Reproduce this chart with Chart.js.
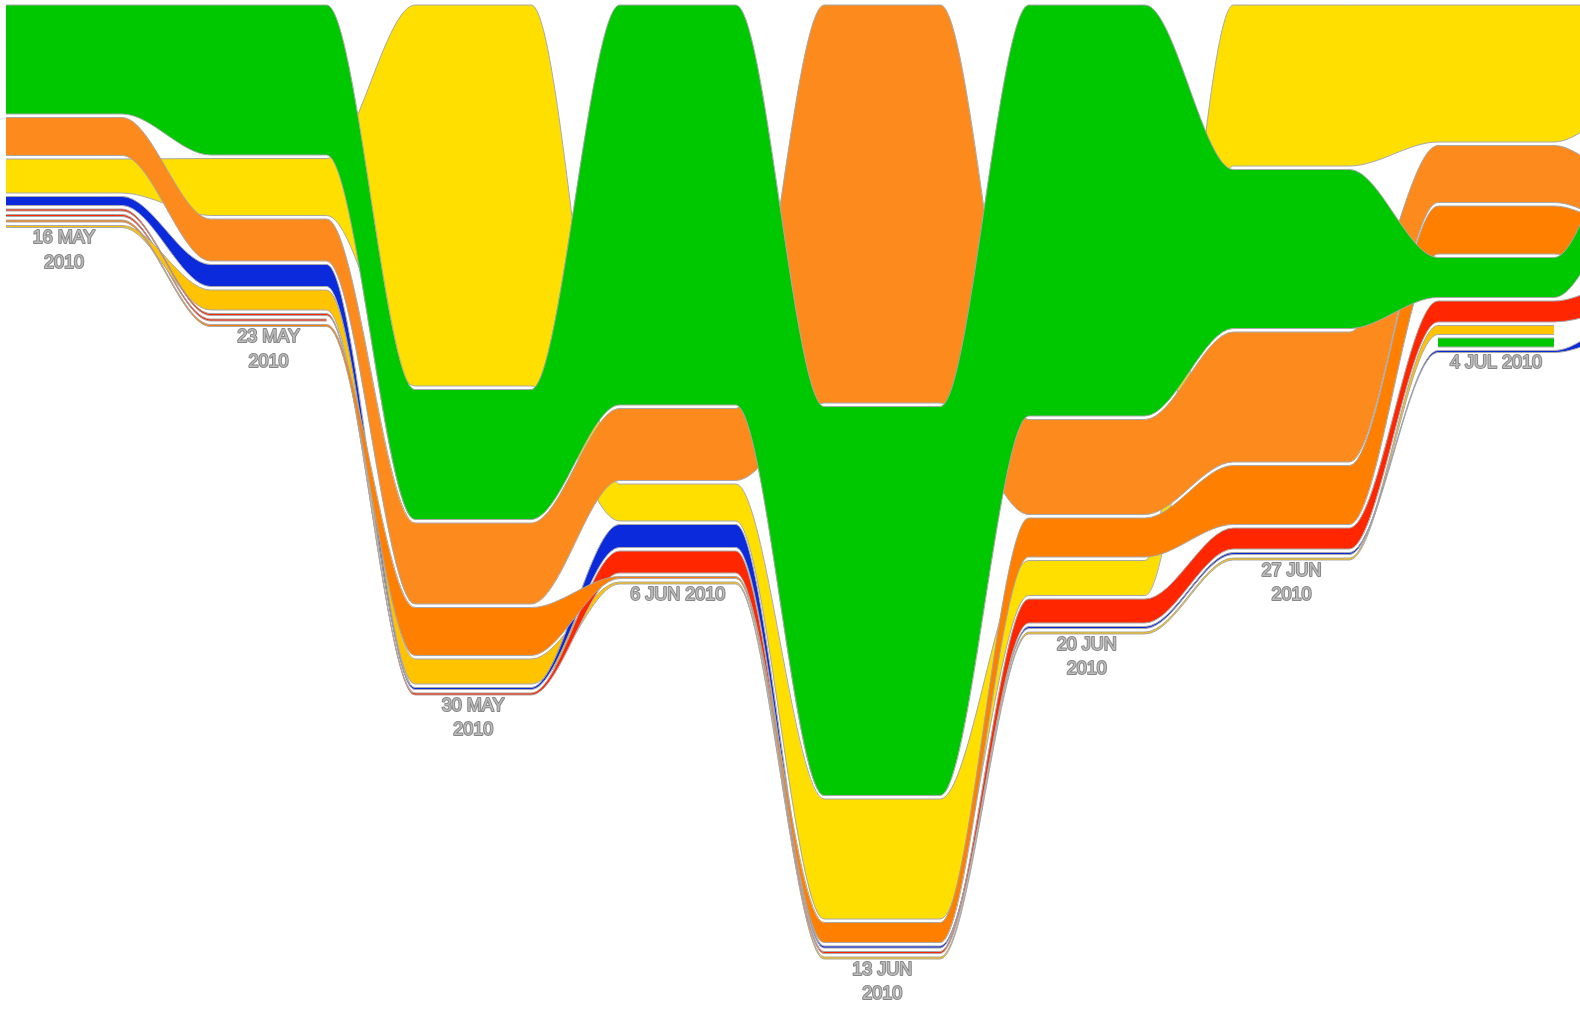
<!DOCTYPE html>
<html>
<head>
<meta charset="utf-8">
<title>Weekly artist chart</title>
<script src="https://cdn.jsdelivr.net/npm/chart.js@4/dist/chart.umd.min.js"></script>
<style>
  html, body { margin: 0; padding: 0; background: #ffffff; }
  #wrap { width: 1580px; height: 1009px; }
</style>
</head>
<body>
<div id="wrap"><canvas id="chart" width="1580" height="1009"></canvas></div>
<script>
// Week labels (one entry per week, split into the lines that are printed)
const weekLabels = [
  ['16 MAY', '2010'], ['23 MAY', '2010'], ['30 MAY', '2010'], ['6 JUN 2010'],
  ['13 JUN', '2010'], ['20 JUN', '2010'], ['27 JUN', '2010'], ['4 JUL 2010'],
  ['11 JUL 2010']
];

// Weekly plays per artist (0 = not charted that week)
const green1      = [109, 150, 130, 400, 389, 411, 159,  40,  88];
const orange1     = [ 38,  42,  81,  72, 398,  95, 130,  57,  40];
const yellow1     = [ 34,  57, 381,  37, 120,  35, 161, 137,  92];
const blue1       = [  9,  22,   2,  23,   2,   2,   2,   2,  20];
const red1        = [  2,   2,   2,  22,   2,  24,  21,  21,  30];
const red2        = [  2,   2,   0,   0,   0,   0,   0,   0,   0];
const darkOrange1 = [  2,   2,  48,   2,  20,  39,  59,  48,  35];
const amber1      = [  2,  20,  25,   2,   2,   2,   2,   9,   0];
const green2      = [  0,   0,   0,   0,   0,   0,   0,   9,   0];

// Palette
const GREEN = '#00c800', ORANGE = '#fc8a1c', DARK_ORANGE = '#ff7f00',
      YELLOW = '#ffdf00', AMBER = '#ffc300', BLUE = '#0a2adc', RED = '#ff2600';
const OUTLINE = '#a8a8a8';

// Stacking order for equal values follows this list; layer = drawing priority (0 on top)
const artists = [
  { name: 'green1', values: green1, color: GREEN, layer: 0 },
  { name: 'orange1', values: orange1, color: ORANGE, layer: 1 },
  { name: 'yellow1', values: yellow1, color: YELLOW, layer: 3 },
  { name: 'blue1', values: blue1, color: BLUE, layer: 5 },
  { name: 'red1', values: red1, color: RED, layer: 4 },
  { name: 'red2', values: red2, color: RED, layer: 7 },
  { name: 'darkOrange1', values: darkOrange1, color: DARK_ORANGE, layer: 2 },
  { name: 'amber1', values: amber1, color: AMBER, layer: 6 },
  { name: 'green2', values: green2, color: GREEN, layer: 8 }
];

const TOP_OFFSET = 5;   // plays-axis offset of the first band
const GAP = 3.5;        // white gap between bands
const HALF = 0.2835;    // half width of a week's flat segment (in weeks)
const X_MIN = -0.3129, X_MAX = 7.4106;

// Stack every week: largest value on top
const nWeeks = weekLabels.length;
const bandTop = artists.map(() => new Array(nWeeks).fill(null));
const bandBottom = artists.map(() => new Array(nWeeks).fill(null));
const stackBottom = new Array(nWeeks).fill(TOP_OFFSET);
for (let w = 0; w < nWeeks; w++) {
  const idx = artists.map((a, i) => i).filter(i => artists[i].values[w] > 0);
  idx.sort((a, b) => (artists[b].values[w] - artists[a].values[w]) || (a - b));
  let y = TOP_OFFSET;
  idx.forEach((i, k) => {
    if (k > 0) y += GAP;
    bandTop[i][w] = y;
    y += artists[i].values[w];
    bandBottom[i][w] = y;
  });
  stackBottom[w] = y;
}

// Build top/bottom line pairs for every continuous run of weeks
const datasets = [];
artists
  .map((a, i) => ({ a, i }))
  .sort((p, q) => p.a.layer - q.a.layer)
  .forEach(({ a, i }) => {
    let w = 0;
    while (w < nWeeks) {
      if (!(a.values[w] > 0)) { w++; continue; }
      const topPts = [], botPts = [];
      while (w < nWeeks && a.values[w] > 0) {
        topPts.push({ x: w - HALF, y: bandTop[i][w] }, { x: w + HALF, y: bandTop[i][w] });
        botPts.push({ x: w - HALF, y: bandBottom[i][w] }, { x: w + HALF, y: bandBottom[i][w] });
        w++;
      }
      datasets.push({
        label: a.name + ' top', data: topPts, fill: false,
        borderColor: OUTLINE, borderWidth: 1, pointRadius: 0
      });
      datasets.push({
        label: a.name, data: botPts, fill: '-1', backgroundColor: a.color,
        borderColor: OUTLINE, borderWidth: 1, pointRadius: 0
      });
    }
  });

// Week captions under each stack
const weekLabelPlugin = {
  id: 'weekLabels',
  afterDatasetsDraw(chart) {
    const { ctx, scales: { x, y } } = chart;
    ctx.save();
    ctx.font = '18px "Liberation Sans", Arial, sans-serif';
    ctx.textAlign = 'center';
    ctx.textBaseline = 'middle';
    ctx.lineJoin = 'round';
    weekLabels.forEach((lines, w) => {
      const px = x.getPixelForValue(w);
      const py = y.getPixelForValue(stackBottom[w]) + 11;
      lines.forEach((t, k) => {
        const yy = py + k * 24.5;
        ctx.lineWidth = 2;
        ctx.strokeStyle = '#868686';
        ctx.strokeText(t, px, yy);
        ctx.fillStyle = '#bdbdbd';
        ctx.fillText(t, px, yy);
      });
    });
    ctx.restore();
  }
};

new Chart(document.getElementById('chart'), {
  type: 'line',
  data: { datasets },
  plugins: [weekLabelPlugin],
  options: {
    responsive: false,
    devicePixelRatio: 1,
    animation: false,
    events: [],
    layout: { padding: 0 },
    elements: {
      line: { cubicInterpolationMode: 'monotone', capBezierPoints: false },
      point: { radius: 0, hitRadius: 0, hoverRadius: 0 }
    },
    scales: {
      x: { type: 'linear', min: X_MIN, max: X_MAX, display: false },
      y: { type: 'linear', min: 0, max: 1009, reverse: true, display: false }
    },
    plugins: {
      legend: { display: false },
      tooltip: { enabled: false },
      filler: { drawTime: 'beforeDatasetDraw' }
    }
  }
});
</script>
</body>
</html>
